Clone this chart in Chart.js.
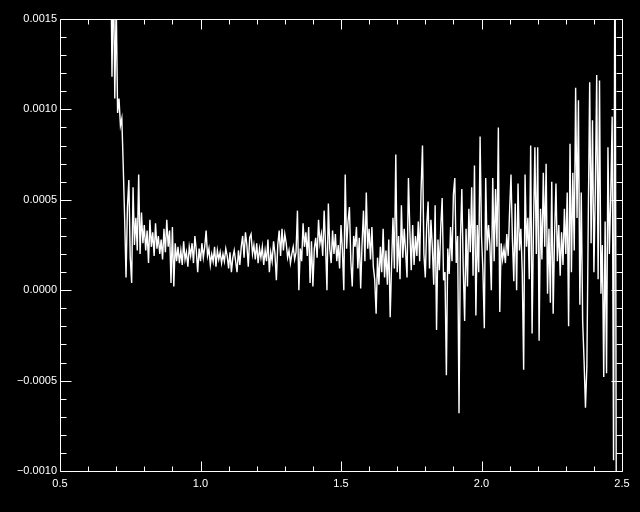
<!DOCTYPE html>
<html>
<head>
<meta charset="utf-8">
<script src="https://cdn.jsdelivr.net/npm/chart.js@4.4.1/dist/chart.umd.min.js"></script>
<style>
  html, body { margin: 0; padding: 0; background: #000; }
  #wrap { width: 640px; height: 512px; position: relative; background: #000; }
</style>
</head>
<body>
<div id="wrap"><canvas id="c" width="640" height="512"></canvas></div>
<script>
// ---- data (values in units of 1e-4) ----
const xStart = 0.680;   // first sample position
const xStep = 0.005;    // sample spacing
const valuesE4 = [
  20, 11.8, 18, 10.6, 16, 9.8, 10.6, 9.1, 9.5, 6.9,
  4.0, 0.7, 4.6, 6.1, 1.8, 0.4, 5.7, 2.5, 4.0, 2.2,
  6.4, 2.0, 4.3, 2.6, 3.6, 2.2, 3.3, 1.5, 3.9, 2.4,
  3.2, 1.9, 3.7, 2.3, 3.0, 2.0, 2.8, 1.7, 3.4, 2.1,
  3.9, 2.4, 3.3, 0.4, 3.5, 0.2, 2.6, 1.6, 2.4, 1.5,
  2.2, 1.4, 2.7, 1.7, 2.1, 1.3, 2.4, 1.9, 2.6, 1.5,
  3.0, 2.2, 1.0, 2.3, 1.6, 2.6, 1.8, 2.4, 3.3, 1.9,
  2.3, 1.4, 2.0, 1.6, 2.4, 1.3, 2.2, 1.7, 2.1, 1.5,
  2.0, 1.6, 2.3, 1.9, 1.2, 2.1, 1.0, 1.8, 2.2, 1.6,
  1.0, 2.2, 1.4, 2.4, 3.0, 1.8, 3.2, 2.5, 1.3, 2.9,
  3.1, 2.0, 2.5, 1.7, 2.6, 1.5, 2.3, 1.8, 2.4, 1.4,
  2.2, 1.6, 2.8, 1.0, 2.1, 1.6, 2.7, 2.0, 0.55, 2.5,
  3.3, 1.9, 3.4, 2.2, 3.1, 2.6, 1.8, 2.2, 1.5, 2.0,
  2.4, 1.7, 2.1, 4.4, 0.0, 2.3, 1.6, 3.7, 2.4, 3.2,
  1.9, 3.5, 0.4, 2.7, 0.2, 2.3, 2.9, 1.8, 3.9, 2.6,
  3.1, 1.9, 4.4, 2.5, 0.0, 4.8, 2.3, 1.5, 3.3, 2.0,
  3.1, 1.6, 2.5, 1.2, 3.6, 2.2, 0.0, 6.4, 2.3, 3.8,
  4.6, 1.6, 0.2, 3.0, 2.4, 3.5, 1.2, 2.9, 0.1, 2.6,
  4.4, 1.6, 5.4, 2.3, 3.4, 1.7, 3.5, 1.3, 0.6, -1.3,
  1.8, 0.3, 2.4, 1.0, 3.4, 0.7, 2.2, 0.3, 2.8, -1.5,
  1.4, 4.0, 1.2, 7.5, 1.0, 3.0, 0.6, 4.7, 1.8, 3.4,
  2.1, 0.7, 6.2, 3.3, 1.1, 3.6, 1.4, 3.0, 1.9, 3.8,
  1.6, 5.6, 8.0, 2.0, 0.7, 3.6, 4.9, 1.2, 3.9, 2.4,
  0.3, 4.7, -2.2, 2.8, 1.1, 3.5, 5.1, 0.55, 1.0, -4.7,
  2.3, 0.9, 3.5, 1.6, 5.3, 6.2, 1.5, 3.0, -6.8, 2.8,
  5.6, 1.2, -1.7, 3.4, 0.2, 4.5, 2.1, 5.7, 0.8, 6.9,
  -1.4, 3.6, 1.0, 8.5, 3.0, 1.1, -2.1, 6.2, 2.2, 3.6,
  2.5, 0.0, 6.2, 1.6, 5.6, 2.4, 9.0, -1.2, 2.6, 1.7,
  2.3, 1.5, 3.1, 1.9, 4.4, 6.4, 2.8, 0.5, 4.8, 0.0,
  5.9, 2.2, 3.4, 1.0, -4.4, 6.4, 2.4, 4.0, 0.6, 8.0,
  -2.4, 3.5, 7.9, 2.0, 7.9, -2.8, 4.5, 1.7, 6.5, 2.4,
  7.0, -0.2, 3.4, -0.7, 6.0, -1.3, 3.0, 5.9, 1.6, 3.6,
  0.8, 3.2, 1.4, 4.5, 2.0, 5.4, -2.0, 8.1, 1.0, 6.5,
  2.2, 11.2, 4.0, 10.5, -0.8, 5.4, -1.7, -3.9, -6.5, -4.2,
  4.0, 11.5, 2.6, 9.4, 1.0, 5.5, 11.9, 0.6, 11.6, -0.2,
  2.5, -4.8, 3.8, -4.6, 7.9, 2.0, 5.3, 9.6, -9.4, 22, -14
];

// ---- axes ----
const xMin = 0.5, xMax = 2.5, xMinorStep = 0.1;
const xTickValues = [0.5, 1.0, 1.5, 2.0, 2.5];
const xTickLabels = ['0.5', '1.0', '1.5', '2.0', '2.5'];
const yMin = -10, yMax = 15, yMinorStep = 1;   // units of 1e-4
const yTickValues = [-10, -5, 0, 5, 10, 15];
const yTickLabels = ['\u22120.0010', '\u22120.0005', '0.0000', '0.0005', '0.0010', '0.0015'];

const points = valuesE4.map((v, i) => ({ x: xStart + i * xStep, y: v }));

const font = { family: '"Liberation Sans", Arial, sans-serif', size: 11 };

const boxTicks = {
  id: 'boxTicks',
  afterDatasetsDraw(chart) {
    const { ctx, chartArea: a, scales: { x, y } } = chart;
    const L = Math.round(a.left) + 0.5, R = Math.round(a.right) + 0.5;
    const T = Math.round(a.top) + 0.5, B = Math.round(a.bottom) + 0.5;
    ctx.save();
    ctx.strokeStyle = '#ffffff';
    ctx.lineWidth = 1;
    ctx.beginPath();
    ctx.rect(L, T, R - L, B - T);
    const nx = Math.round((xMax - xMin) / xMinorStep);
    for (let k = 0; k <= nx; k++) {
      const px = Math.round(x.getPixelForValue(xMin + k * xMinorStep)) + 0.5;
      const len = (k % 5 === 0) ? 10 : 5;
      ctx.moveTo(px, B); ctx.lineTo(px, B - len);
      ctx.moveTo(px, T); ctx.lineTo(px, T + len);
    }
    const ny = Math.round((yMax - yMin) / yMinorStep);
    for (let k = 0; k <= ny; k++) {
      const py = Math.round(y.getPixelForValue(yMin + k * yMinorStep)) + 0.5;
      const len = (k % 5 === 0) ? 11 : 6;
      ctx.moveTo(L, py); ctx.lineTo(L + len, py);
      ctx.moveTo(R, py); ctx.lineTo(R - len, py);
    }
    ctx.stroke();
    ctx.restore();
  }
};

const bgPlugin = {
  id: 'bg',
  beforeDraw(chart) {
    const { ctx, width, height } = chart;
    ctx.save(); ctx.fillStyle = '#000'; ctx.fillRect(0, 0, width, height); ctx.restore();
  }
};

new Chart(document.getElementById('c'), {
  type: 'line',
  data: {
    datasets: [{
      data: points,
      borderColor: '#ffffff',
      borderWidth: 1.4,
      pointRadius: 0,
      tension: 0,
      fill: false
    }]
  },
  options: {
    responsive: false,
    animation: false,
    devicePixelRatio: 1,
    layout: { padding: { top: 19, right: 18, left: 0, bottom: 0 } },
    plugins: { legend: { display: false }, tooltip: { enabled: false } },
    scales: {
      x: {
        type: 'linear', min: xMin, max: xMax,
        afterBuildTicks: s => { s.ticks = xTickValues.map(v => ({ value: v })); },
        afterFit: s => { s.height = 41; },
        grid: { display: false, drawTicks: false, tickLength: 0 },
        border: { display: false },
        ticks: { color: '#ffffff', font, padding: 6, maxRotation: 0, autoSkip: false,
                 callback: (v, i) => xTickLabels[i] }
      },
      y: {
        type: 'linear', min: yMin, max: yMax,
        afterBuildTicks: s => { s.ticks = yTickValues.map(v => ({ value: v })); },
        afterFit: s => { s.width = 60; },
        grid: { display: false, drawTicks: false, tickLength: 0 },
        border: { display: false },
        ticks: { color: '#ffffff', font, padding: 3, autoSkip: false,
                 callback: (v, i) => yTickLabels[i] }
      }
    }
  },
  plugins: [bgPlugin, boxTicks]
});
</script>
</body>
</html>
